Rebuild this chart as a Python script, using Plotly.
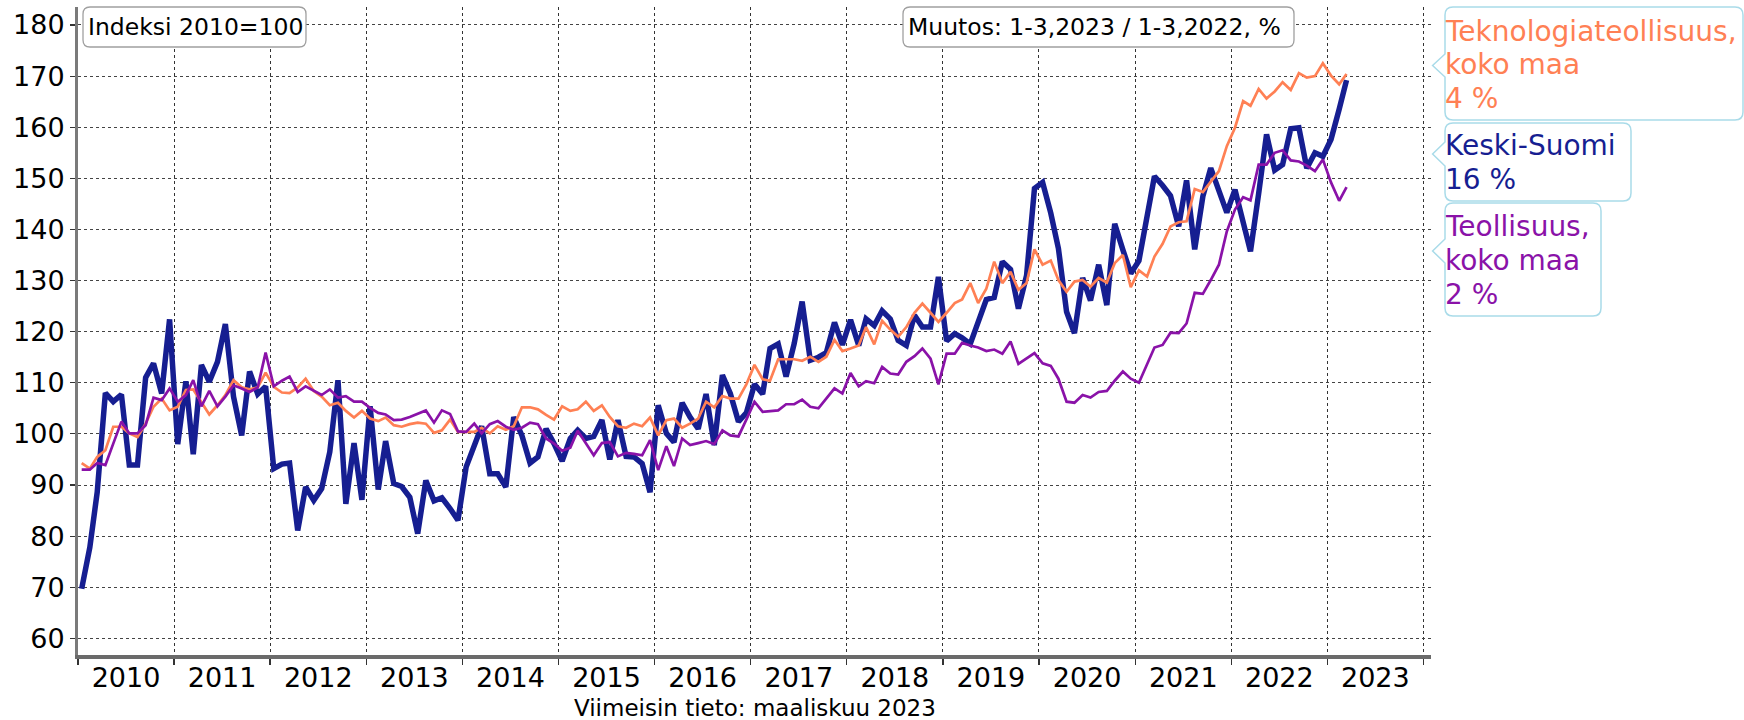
import pandas as pd
import plotly.graph_objects as go

# ---------------- data (monthly index, 2010=100), Jan 2010 .. Mar 2023 ----------------
keski_suomi = [
    69.7, 77.8, 88.6, 108.0, 106.3, 107.7, 93.9, 93.9, 111.0, 113.8, 107.9, 122.4,   # 2010
    98.0, 110.3, 96.0, 113.5, 110.2, 114.1, 121.5, 107.3, 99.7, 112.2, 107.8, 109.3,  # 2011
    93.2, 94.1, 94.3, 81.1, 89.6, 87.0, 89.3, 96.5, 110.5, 86.3, 98.2, 87.1,          # 2012
    105.4, 89.1, 98.6, 90.3, 89.7, 87.6, 80.5, 90.9, 86.9, 87.5, 85.4, 83.1,          # 2013
    93.5, 97.8, 101.5, 92.2, 92.2, 89.6, 103.3, 99.7, 94.3, 95.5, 101.0, 98.1,        # 2014
    94.7, 99.1, 100.7, 99.1, 99.5, 102.7, 95.0, 102.7, 95.6, 95.5, 94.2, 88.6,        # 2015
    105.6, 100.1, 98.4, 106.1, 103.3, 101.0, 107.8, 97.8, 111.5, 107.9, 102.4, 104.1, # 2016
    109.7, 107.8, 116.7, 117.6, 111.2, 117.7, 125.9, 114.4, 115.0, 115.9, 121.8, 117.4, # 2017
    122.3, 117.3, 122.5, 121.2, 124.1, 122.5, 118.3, 117.3, 123.2, 120.9, 120.9, 130.7, # 2018
    118.2, 119.6, 118.8, 117.6, 121.6, 126.3, 126.7, 133.7, 132.2, 124.5, 131.0, 148.0, # 2019
    149.2, 143.2, 136.3, 123.9, 119.7, 130.5, 126.1, 133.1, 125.2, 141.1, 136.0, 131.4, # 2020
    133.9, 143.2, 150.4, 148.6, 146.6, 140.6, 149.6, 136.1, 146.5, 152.0, 147.8, 143.3, # 2021
    147.8, 141.5, 135.7, 147.0, 158.6, 151.6, 152.7, 159.7, 159.9, 152.0, 155.0, 154.3, # 2022
    157.6, 163.5, 169.2,                                                                 # 2023
]

teknologia = [
    94.3, 93.2, 95.5, 96.8, 101.4, 101.4, 100.1, 99.4, 102.0, 105.3, 106.9, 104.6,
    105.3, 108.6, 108.7, 106.3, 103.8, 105.6, 107.6, 110.5, 109.1, 108.7, 109.1, 112.0,
    109.2, 108.1, 108.0, 109.1, 110.8, 108.4, 107.3, 105.6, 106.1, 104.5, 103.2, 104.5,
    103.0, 102.5, 103.2, 101.7, 101.4, 101.9, 102.2, 102.0, 100.2, 100.7, 102.8, 100.4,
    100.4, 100.4, 101.2, 100.1, 101.5, 100.8, 101.5, 105.2, 105.2, 104.8, 103.7, 102.8,
    105.4, 104.5, 104.8, 106.3, 104.5, 105.6, 103.3, 101.5, 101.2, 102.0, 101.5, 103.2,
    99.7, 102.7, 103.0, 101.2, 102.0, 103.0, 106.3, 105.2, 107.4, 106.9, 106.9, 109.7,
    113.5, 110.7, 110.4, 114.6, 114.6, 114.6, 114.3, 115.1, 114.1, 115.1, 118.4, 116.2,
    116.7, 117.3, 120.9, 117.5, 122.1, 120.4, 119.0, 120.9, 123.7, 125.5, 123.7, 121.9,
    123.7, 125.6, 126.3, 129.5, 125.6, 128.4, 133.7, 129.5, 131.7, 128.2, 129.5, 136.1,
    133.1, 133.9, 130.1, 127.8, 129.8, 130.1, 128.8, 130.5, 129.6, 133.4, 135.0, 128.7,
    132.0, 130.8, 134.7, 137.2, 140.6, 141.4, 141.6, 147.9, 147.3, 149.4, 151.4, 156.3,
    159.9, 165.1, 164.2, 167.5, 165.6, 167.0, 168.8, 167.3, 170.6, 169.7, 170.0, 172.5,
    170.1, 168.4, 170.4,
]

teollisuus = [
    93.0, 93.0, 94.3, 93.9, 98.1, 102.4, 100.1, 100.1, 101.7, 107.1, 106.6, 108.9,
    106.3, 107.6, 110.5, 105.4, 108.4, 105.4, 107.3, 109.5, 108.9, 108.2, 109.1, 115.9,
    109.3, 110.4, 111.2, 108.2, 109.3, 108.4, 107.6, 108.7, 107.1, 107.4, 106.3, 106.3,
    105.1, 104.1, 103.8, 102.7, 102.8, 103.3, 103.9, 104.6, 102.2, 104.6, 103.9, 100.5,
    100.4, 102.0, 100.1, 101.9, 102.5, 101.4, 100.8, 101.2, 102.2, 101.9, 99.1, 98.1,
    96.7, 97.3, 100.6, 98.2, 95.8, 98.2, 98.4, 95.6, 96.3, 96.1, 95.8, 98.8,
    92.9, 97.6, 93.7, 99.1, 97.8, 98.2, 98.6, 98.0, 100.7, 99.7, 99.5, 102.8,
    106.3, 104.3, 104.5, 104.6, 105.8, 105.8, 106.7, 105.3, 105.0, 106.9, 108.9, 107.9,
    111.9, 109.3, 110.3, 109.9, 113.1, 111.8, 111.6, 114.1, 115.2, 116.7, 114.7, 109.7,
    115.7, 115.7, 117.8, 117.3, 116.9, 116.2, 116.5, 115.7, 118.1, 113.7, 114.7, 115.8,
    113.8, 113.3, 110.8, 106.3, 106.1, 107.6, 107.1, 108.2, 108.4, 110.4, 112.2, 110.8,
    110.0, 113.5, 116.9, 117.4, 119.8, 119.7, 121.6, 127.6, 127.4, 130.1, 133.1, 139.6,
    143.9, 146.3, 145.7, 152.7, 152.7, 155.0, 155.5, 153.5, 153.3, 152.5, 151.4, 153.7,
    149.2, 145.6, 148.3,
]

series_names = ["Teknologiateollisuus, koko maa", "Keski-Suomi", "Teollisuus, koko maa"]
legend_lines = [["Teknologiateollisuus,", "koko maa", "4 %"],
                ["Keski-Suomi", "16 %"],
                ["Teollisuus,", "koko maa", "2 %"]]
y_ticks = list(range(60, 181, 10))
index_note = "Indeksi 2010=100"
change_note = "Muutos: 1-3,2023 / 1-3,2022, %"
footer_note = "Viimeisin tieto: maaliskuu 2023"

months = pd.date_range("2010-01-01", periods=len(keski_suomi), freq="MS") + pd.Timedelta(days=14)

# ---------------- styling ----------------
C_ORANGE = "rgb(255,128,84)"
C_BLUE = "rgb(22,30,145)"
C_PURPLE = "rgb(138,18,168)"
FONT = "DejaVu Sans"

W, H = 1744, 720
ML, MR, MT, MB = 78, 313, 7, 65
PW, PH = W - ML - MR, H - MT - MB


def px(x):
    return (x - ML) / PW


def py(y):
    return (MT + PH - y) / PH


fig = go.Figure()
fig.add_trace(go.Scatter(x=months, y=keski_suomi, mode="lines", name=series_names[1],
                         line=dict(color=C_BLUE, width=5.5)))
fig.add_trace(go.Scatter(x=months, y=teknologia, mode="lines", name=series_names[0],
                         line=dict(color=C_ORANGE, width=2.7)))
fig.add_trace(go.Scatter(x=months, y=teollisuus, mode="lines", name=series_names[2],
                         line=dict(color=C_PURPLE, width=2.7)))


def rounded_box(x0, y0, x1, y1, r=6, pointer=None):
    # pixel coordinates -> paper path
    def P(x, y):
        return f"{px(x):.5f},{py(y):.5f}"
    d = f"M{P(x0 + r, y0)} L{P(x1 - r, y0)} Q{P(x1, y0)} {P(x1, y0 + r)} "
    d += f"L{P(x1, y1 - r)} Q{P(x1, y1)} {P(x1 - r, y1)} L{P(x0 + r, y1)} "
    d += f"Q{P(x0, y1)} {P(x0, y1 - r)} "
    if pointer:
        ya, tipx, tipy, yb = pointer
        d += f"L{P(x0, yb)} L{P(tipx, tipy)} L{P(x0, ya)} "
    d += f"L{P(x0, y0 + r)} Q{P(x0, y0)} {P(x0 + r, y0)} Z"
    return d


shapes = []
# top info boxes
for (x0, x1) in [(83, 306), (903, 1294)]:
    shapes.append(dict(type="path", xref="paper", yref="paper",
                       path=rounded_box(x0, 7, x1, 47, r=7),
                       line=dict(color="#a0a0a0", width=1.3), fillcolor="white", layer="above"))
# callout boxes
callouts = [
    (1445, 7, 1743, 120, (54, 1432.6, 65.5, 77)),
    (1445, 123, 1631, 201, (142, 1432.6, 154, 166)),
    (1445, 203, 1601, 316, (239, 1432.6, 251, 263)),
]
for (x0, y0, x1, y1, ptr) in callouts:
    shapes.append(dict(type="path", xref="paper", yref="paper",
                       path=rounded_box(x0, y0, x1, y1, r=8, pointer=ptr),
                       line=dict(color="#a9dbe9", width=1.5), fillcolor="white", layer="above"))

annotations = []
annotations.append(dict(text=index_note, xref="paper", yref="paper", x=px(86), y=py(27.5),
                        xanchor="left", yanchor="middle", showarrow=False,
                        font=dict(family=FONT, size=23.5, color="black")))
annotations.append(dict(text=change_note, xref="paper", yref="paper", x=px(906), y=py(27.5),
                        xanchor="left", yanchor="middle", showarrow=False,
                        font=dict(family=FONT, size=23.5, color="black")))
annotations.append(dict(text=footer_note, xref="paper", yref="paper", x=0.5, y=py(707.5),
                        xanchor="center", yanchor="middle", showarrow=False,
                        font=dict(family=FONT, size=23, color="black")))

line_centers = [[31.5, 65, 99], [145.5, 179.5], [226.5, 260, 294]]
colors = [C_ORANGE, C_BLUE, C_PURPLE]
for lines, centers, col in zip(legend_lines, line_centers, colors):
    for t, yc in zip(lines, centers):
        annotations.append(dict(text=t, xref="paper", yref="paper", x=px(1443), y=py(yc),
                                xanchor="left", yanchor="middle", showarrow=False,
                                font=dict(family=FONT, size=28, color=col)))

fig.update_layout(
    width=W, height=H,
    margin=dict(l=ML, r=MR, t=MT, b=MB, pad=0, autoexpand=False),
    paper_bgcolor="white", plot_bgcolor="white",
    showlegend=False, hovermode=False,
    font=dict(family=FONT, size=26, color="black"),
    shapes=shapes, annotations=annotations,
    xaxis=dict(
        type="date", range=["2010-01-01", "2024-01-30"],
        tick0="2010-01-01", dtick="M12", tickformat="%Y", ticklabelmode="period",
        showgrid=True, gridcolor="#333", griddash="dot", gridwidth=1,
        showline=True, linecolor="#6a6a6a", linewidth=4,
        ticks="outside", ticklen=6, tickcolor="#333", tickwidth=1.2,
        ticklabelstandoff=-10,
        tickfont=dict(family=FONT, size=27, color="black"),
        zeroline=False, fixedrange=True, automargin=False,
    ),
    yaxis=dict(
        range=[56.74, 183.52], tickvals=y_ticks,
        showgrid=True, gridcolor="#444", griddash="dot", gridwidth=1,
        showline=True, linecolor="#7a7a7a", linewidth=3,
        ticks="outside", ticklen=5, tickcolor="#333", tickwidth=1.2,
        ticklabelstandoff=0,
        tickfont=dict(family=FONT, size=27, color="black"),
        zeroline=False, fixedrange=True, automargin=False,
    ),
)

fig.write_html("out.html", config={"displayModeBar": False, "staticPlot": True},
               post_script="document.body.style.margin='0px';"
                           "document.body.style.overflow='hidden';")
